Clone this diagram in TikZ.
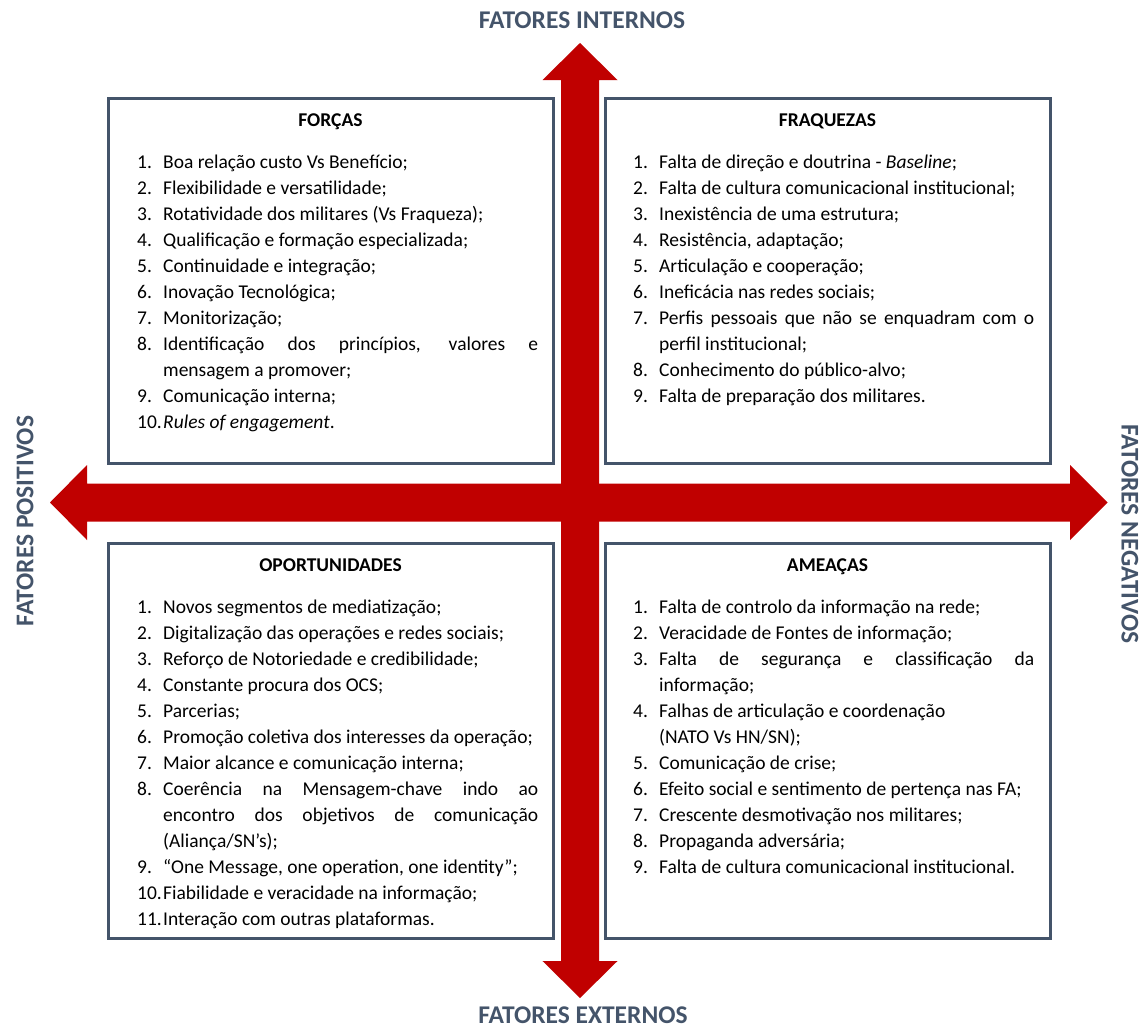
\documentclass[tikz,border=0pt]{standalone}
\usepackage{fontspec}
\setmainfont{Carlito}
\hyphenpenalty=10000
\exhyphenpenalty=10000

\definecolor{vermelhoeixo}{HTML}{C00000}
\definecolor{cinzaazul}{HTML}{44546A}

\newcommand{\topico}[2]{\hangindent=26pt\hangafter=1\noindent\strut\makebox[26pt][l]{#1}#2\par}

\tikzset{
    quadro/.style={draw=cinzaazul, line width=3pt, minimum width=445pt, minimum height=365pt, inner sep=0pt},
    titulo/.style={font=\fontsize{19.5}{26}\selectfont\bfseries, anchor=base, inner sep=0pt},
    lista/.style={font=\fontsize{19.5}{26}\selectfont, text width=401pt, align=justify, anchor=north west, inner sep=0pt},
    fator/.style={font=\fontsize{25.5}{30}\selectfont\bfseries, text=cinzaazul, inner sep=0pt},
    eixo/.style={fill=vermelhoeixo}
}

\begin{document}
\begin{tikzpicture}[x=1pt, y=-1pt]
        \useasboundingbox (0,0) rectangle (1144,1029);

        \fill[eixo] (580,43) -- (617.5,80) -- (599,80) -- (599,961) -- (617.5,961) -- (580,998)
            -- (542.5,961) -- (561,961) -- (561,80) -- (542.5,80) -- cycle;
        \fill[eixo] (50,502.5) -- (87,465) -- (87,483.5) -- (1070,483.5) -- (1070,465) -- (1107.5,502.5)
            -- (1070,540) -- (1070,521.5) -- (87,521.5) -- (87,540) -- cycle;

        \node[fator] (internos) at (582,20) {FATORES INTERNOS};
        \node[fator] (externos) at (583,1015.5) {FATORES EXTERNOS};
        \node[fator, rotate=90] (positivos) at (25,521) {FATORES POSITIVOS};
        \node[fator, rotate=-90] (negativos) at (1130,534) {FATORES NEGATIVOS};

        \node[quadro] (forcas) at (330.5,280.5) {};
        \node[quadro] (fraquezas) at (827.5,280.5) {};
        \node[quadro, minimum height=395pt] (oportunidades) at (330.5,740.5) {};
        \node[quadro, minimum height=395pt] (ameacas) at (827.5,740.5) {};

        \node[titulo] (tforcas) at (330.5,126) {FORÇAS};
        \node[titulo] (tfraquezas) at (827.5,126) {FRAQUEZAS};
        \node[titulo] (toportunidades) at (330.5,571) {OPORTUNIDADES};
        \node[titulo] (tameacas) at (827.5,571) {AMEAÇAS};

        \node[lista] (lforcas) at (137,149.8) {%
            \topico{1.}{Boa relação custo Vs Benefício;}
            \topico{2.}{Flexibilidade e versatilidade;}
            \topico{3.}{Rotatividade dos militares (Vs Fraqueza);}
            \topico{4.}{Qualificação e formação especializada;}
            \topico{5.}{Continuidade e integração;}
            \topico{6.}{Inovação Tecnológica;}
            \topico{7.}{Monitorização;}
            \topico{8.}{Identificação dos princípios, valores e\linebreak mensagem a promover;}
            \topico{9.}{Comunicação interna;}
            \topico{10.}{\textit{Rules of engagement}.}};

        \node[lista] (lfraquezas) at (633,149.8) {%
            \topico{1.}{Falta de direção e doutrina - \textit{Baseline};}
            \topico{2.}{Falta de cultura comunicacional institucional;}
            \topico{3.}{Inexistência de uma estrutura;}
            \topico{4.}{Resistência, adaptação;}
            \topico{5.}{Articulação e cooperação;}
            \topico{6.}{Ineficácia nas redes sociais;}
            \topico{7.}{Perfis pessoais que não se enquadram com o\linebreak perfil institucional;}
            \topico{8.}{Conhecimento do público-alvo;}
            \topico{9.}{Falta de preparação dos militares.}};

        \node[lista] (loportunidades) at (137,594.8) {%
            \topico{1.}{Novos segmentos de mediatização;}
            \topico{2.}{Digitalização das operações e redes sociais;}
            \topico{3.}{Reforço de Notoriedade e credibilidade;}
            \topico{4.}{Constante procura dos OCS;}
            \topico{5.}{Parcerias;}
            \topico{6.}{Promoção coletiva dos interesses da operação;}
            \topico{7.}{Maior alcance e comunicação interna;}
            \topico{8.}{Coerência na Mensagem-chave indo ao\linebreak encontro dos objetivos de comunicação\linebreak (Aliança/SN’s);}
            \topico{9.}{“One Message, one operation, one identity”;}
            \topico{10.}{Fiabilidade e veracidade na informação;}
            \topico{11.}{Interação com outras plataformas.}};

        \node[lista] (lameacas) at (633,594.8) {%
            \topico{1.}{Falta de controlo da informação na rede;}
            \topico{2.}{Veracidade de Fontes de informação;}
            \topico{3.}{Falta de segurança e classificação da\linebreak informação;}
            \topico{4.}{Falhas de articulação e coordenação\newline (NATO Vs HN/SN);}
            \topico{5.}{Comunicação de crise;}
            \topico{6.}{Efeito social e sentimento de pertença nas FA;}
            \topico{7.}{Crescente desmotivação nos militares;}
            \topico{8.}{Propaganda adversária;}
            \topico{9.}{Falta de cultura comunicacional institucional.}};
\end{tikzpicture}
\end{document}
